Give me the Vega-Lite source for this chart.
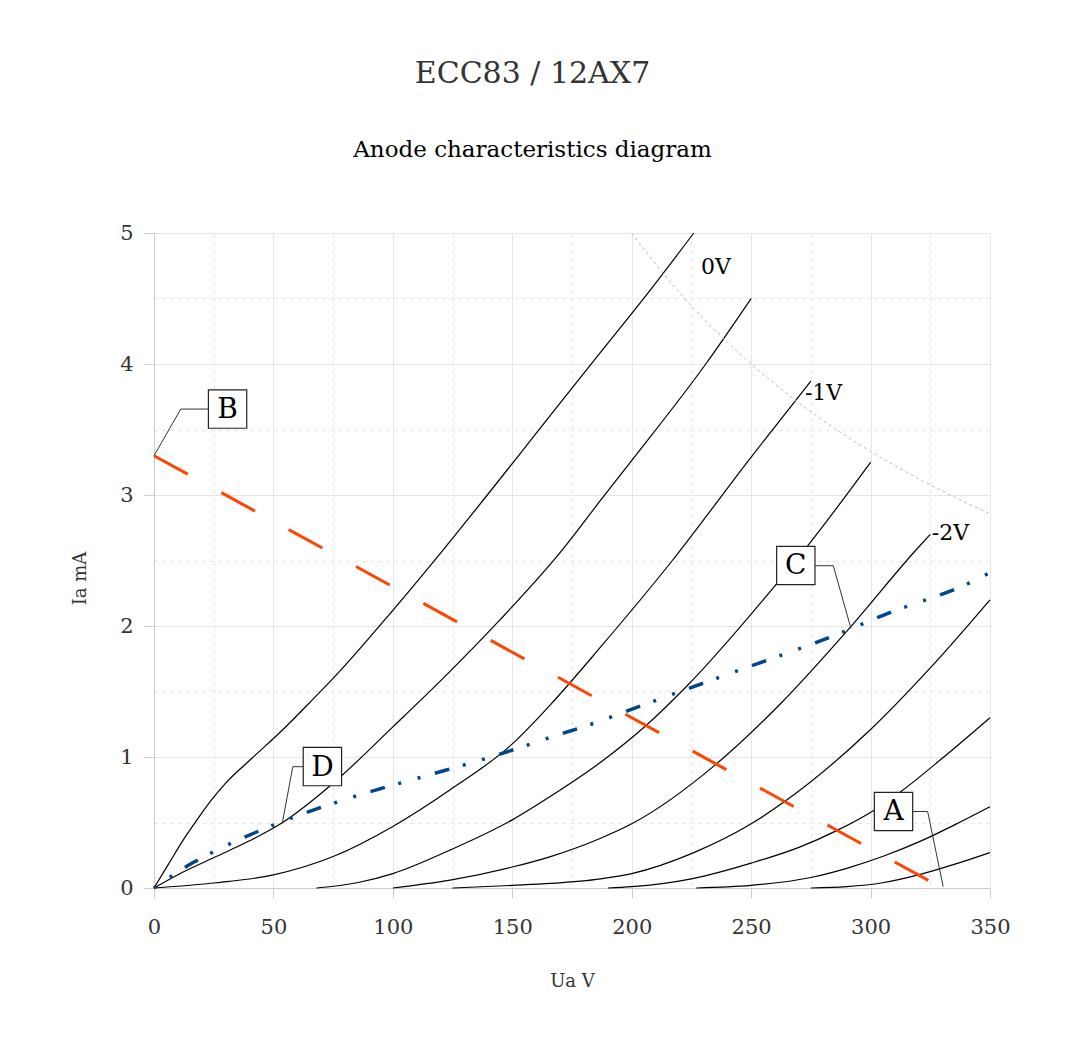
{
  "$schema": "https://vega.github.io/schema/vega-lite/v6.json",
  "width": 836,
  "height": 655,
  "autosize": {"type": "none"},
  "padding": {"left": 154, "top": 233, "right": 75, "bottom": 170},
  "background": "white",
  "title": {
    "text": "ECC83 / 12AX7",
    "subtitle": "Anode characteristics diagram",
    "anchor": "middle",
    "frame": "group",
    "dx": -39.5,
    "font": "DejaVu Serif",
    "fontSize": 30,
    "fontWeight": "normal",
    "color": "#333333",
    "subtitleFont": "DejaVu Serif",
    "subtitleFontSize": 23,
    "subtitleColor": "#000000",
    "subtitlePadding": 50,
    "offset": 60
  },
  "config": {
    "view": {"stroke": null},
    "axis": {
      "labelFont": "DejaVu Serif",
      "titleFont": "DejaVu Serif",
      "labelColor": "#333333",
      "titleColor": "#333333",
      "titleFontWeight": "normal",
      "domainColor": "#cccccc",
      "tickColor": "#cccccc",
      "gridColor": "#e6e6e6",
      "labelFontSize": 21,
      "titleFontSize": 18,
      "tickSize": 10
    }
  },
  "datasets": {
    "tubes": [
      {"g": "0", "ua": 0, "ia": 0}, {"g": "0", "ua": 6, "ia": 0.18}, {"g": "0", "ua": 12, "ia": 0.36}, {"g": "0", "ua": 18, "ia": 0.52}, {"g": "0", "ua": 24, "ia": 0.67}, {"g": "0", "ua": 30, "ia": 0.8}, {"g": "0", "ua": 41, "ia": 0.99}, {"g": "0", "ua": 54, "ia": 1.21}, {"g": "0", "ua": 67, "ia": 1.45}, {"g": "0", "ua": 75, "ia": 1.6}, {"g": "0", "ua": 100, "ia": 2.12}, {"g": "0", "ua": 121, "ia": 2.58}, {"g": "0", "ua": 150, "ia": 3.24}, {"g": "0", "ua": 166, "ia": 3.61}, {"g": "0", "ua": 187, "ia": 4.09}, {"g": "0", "ua": 208, "ia": 4.57}, {"g": "0", "ua": 226, "ia": 5.0},
      {"g": "-0.5", "ua": 0, "ia": 0}, {"g": "-0.5", "ua": 12, "ia": 0.12}, {"g": "-0.5", "ua": 26, "ia": 0.24}, {"g": "-0.5", "ua": 40, "ia": 0.36}, {"g": "-0.5", "ua": 53, "ia": 0.49}, {"g": "-0.5", "ua": 75, "ia": 0.8}, {"g": "-0.5", "ua": 100, "ia": 1.23}, {"g": "-0.5", "ua": 121, "ia": 1.6}, {"g": "-0.5", "ua": 145, "ia": 2.05}, {"g": "-0.5", "ua": 170, "ia": 2.56}, {"g": "-0.5", "ua": 187, "ia": 2.96}, {"g": "-0.5", "ua": 199, "ia": 3.24}, {"g": "-0.5", "ua": 231, "ia": 4.0}, {"g": "-0.5", "ua": 250, "ia": 4.5},
      {"g": "-1", "ua": 0, "ia": 0}, {"g": "-1", "ua": 26, "ia": 0.04}, {"g": "-1", "ua": 50, "ia": 0.1}, {"g": "-1", "ua": 75, "ia": 0.24}, {"g": "-1", "ua": 100, "ia": 0.47}, {"g": "-1", "ua": 124, "ia": 0.75}, {"g": "-1", "ua": 150, "ia": 1.1}, {"g": "-1", "ua": 166, "ia": 1.4}, {"g": "-1", "ua": 187, "ia": 1.84}, {"g": "-1", "ua": 217, "ia": 2.5}, {"g": "-1", "ua": 250, "ia": 3.29}, {"g": "-1", "ua": 275, "ia": 3.87},
      {"g": "-1.5", "ua": 68, "ia": 0}, {"g": "-1.5", "ua": 85, "ia": 0.04}, {"g": "-1.5", "ua": 100, "ia": 0.11}, {"g": "-1.5", "ua": 124, "ia": 0.29}, {"g": "-1.5", "ua": 150, "ia": 0.52}, {"g": "-1.5", "ua": 166, "ia": 0.7}, {"g": "-1.5", "ua": 187, "ia": 0.96}, {"g": "-1.5", "ua": 206, "ia": 1.24}, {"g": "-1.5", "ua": 223, "ia": 1.54}, {"g": "-1.5", "ua": 261, "ia": 2.33}, {"g": "-1.5", "ua": 274, "ia": 2.62}, {"g": "-1.5", "ua": 300, "ia": 3.25},
      {"g": "-2", "ua": 100, "ia": 0}, {"g": "-2", "ua": 124, "ia": 0.06}, {"g": "-2", "ua": 150, "ia": 0.16}, {"g": "-2", "ua": 166, "ia": 0.24}, {"g": "-2", "ua": 187, "ia": 0.38}, {"g": "-2", "ua": 200, "ia": 0.49}, {"g": "-2", "ua": 235, "ia": 0.94}, {"g": "-2", "ua": 263, "ia": 1.42}, {"g": "-2", "ua": 291, "ia": 1.98}, {"g": "-2", "ua": 319, "ia": 2.58}, {"g": "-2", "ua": 325, "ia": 2.7},
      {"g": "-2.5", "ua": 125, "ia": 0}, {"g": "-2.5", "ua": 150, "ia": 0.02}, {"g": "-2.5", "ua": 166, "ia": 0.035}, {"g": "-2.5", "ua": 187, "ia": 0.07}, {"g": "-2.5", "ua": 200, "ia": 0.11}, {"g": "-2.5", "ua": 226, "ia": 0.27}, {"g": "-2.5", "ua": 250, "ia": 0.49}, {"g": "-2.5", "ua": 264, "ia": 0.66}, {"g": "-2.5", "ua": 300, "ia": 1.21}, {"g": "-2.5", "ua": 325, "ia": 1.68}, {"g": "-2.5", "ua": 350, "ia": 2.2},
      {"g": "-3", "ua": 190, "ia": 0}, {"g": "-3", "ua": 200, "ia": 0.01}, {"g": "-3", "ua": 225, "ia": 0.07}, {"g": "-3", "ua": 250, "ia": 0.19}, {"g": "-3", "ua": 270, "ia": 0.31}, {"g": "-3", "ua": 286, "ia": 0.44}, {"g": "-3", "ua": 302, "ia": 0.6}, {"g": "-3", "ua": 313, "ia": 0.74}, {"g": "-3", "ua": 330, "ia": 0.99}, {"g": "-3", "ua": 350, "ia": 1.3},
      {"g": "-3.5", "ua": 227, "ia": 0}, {"g": "-3.5", "ua": 250, "ia": 0.02}, {"g": "-3.5", "ua": 275, "ia": 0.08}, {"g": "-3.5", "ua": 290, "ia": 0.15}, {"g": "-3.5", "ua": 305, "ia": 0.24}, {"g": "-3.5", "ua": 320, "ia": 0.35}, {"g": "-3.5", "ua": 335, "ia": 0.48}, {"g": "-3.5", "ua": 350, "ia": 0.62},
      {"g": "-4", "ua": 275, "ia": 0}, {"g": "-4", "ua": 290, "ia": 0.01}, {"g": "-4", "ua": 305, "ia": 0.04}, {"g": "-4", "ua": 320, "ia": 0.1}, {"g": "-4", "ua": 335, "ia": 0.18}, {"g": "-4", "ua": 350, "ia": 0.27}
    ],
    "pmax": [
      {"ua": 200, "ia": 5.0}, {"ua": 210, "ia": 4.762}, {"ua": 220, "ia": 4.545}, {"ua": 230, "ia": 4.348}, {"ua": 240, "ia": 4.167}, {"ua": 250, "ia": 4.0}, {"ua": 260, "ia": 3.846}, {"ua": 270, "ia": 3.704}, {"ua": 280, "ia": 3.571}, {"ua": 290, "ia": 3.448}, {"ua": 300, "ia": 3.333}, {"ua": 310, "ia": 3.226}, {"ua": 320, "ia": 3.125}, {"ua": 330, "ia": 3.03}, {"ua": 340, "ia": 2.941}, {"ua": 350, "ia": 2.857}
    ],
    "load": [
      {"ua": 0, "ia": 3.3}, {"ua": 330, "ia": 0}
    ],
    "bias": [
      {"ua": 0, "ia": 0}, {"ua": 7, "ia": 0.086}, {"ua": 16, "ia": 0.19}, {"ua": 25, "ia": 0.277}, {"ua": 42, "ia": 0.42}, {"ua": 59, "ia": 0.544}, {"ua": 86, "ia": 0.71}, {"ua": 114, "ia": 0.857}, {"ua": 141, "ia": 1.0}, {"ua": 169, "ia": 1.168}, {"ua": 182, "ia": 1.244}, {"ua": 206, "ia": 1.405}, {"ua": 242, "ia": 1.643}, {"ua": 288, "ia": 1.95}, {"ua": 305, "ia": 2.08}, {"ua": 341, "ia": 2.326}, {"ua": 350, "ia": 2.407}
    ],
    "leaders": [
      {"k": "A", "o": 0, "ua": 317.6, "ia": 0.584}, {"k": "A", "o": 1, "ua": 323.9, "ia": 0.584}, {"k": "A", "o": 2, "ua": 330.4, "ia": 0.01},
      {"k": "B", "o": 0, "ua": 22.7, "ia": 3.656}, {"k": "B", "o": 1, "ua": 11.2, "ia": 3.656}, {"k": "B", "o": 2, "ua": 0, "ia": 3.3},
      {"k": "C", "o": 0, "ua": 276.7, "ia": 2.46}, {"k": "C", "o": 1, "ua": 284.4, "ia": 2.46}, {"k": "C", "o": 2, "ua": 291.8, "ia": 1.98},
      {"k": "D", "o": 0, "ua": 62.5, "ia": 0.926}, {"k": "D", "o": 1, "ua": 58.1, "ia": 0.926}, {"k": "D", "o": 2, "ua": 53.7, "ia": 0.494}
    ],
    "boxes": [
      {"k": "A", "ua": 309.6, "ia": 0.584},
      {"k": "B", "ua": 30.8, "ia": 3.656},
      {"k": "C", "ua": 268.7, "ia": 2.462},
      {"k": "D", "ua": 70.5, "ia": 0.927}
    ],
    "curvelabels": [
      {"t": "0V", "ua": 229, "ia": 4.74},
      {"t": "-1V", "ua": 272.5, "ia": 3.78},
      {"t": "-2V", "ua": 325.6, "ia": 2.71}
    ]
  },
  "encoding": {
    "x": {
      "field": "ua", "type": "quantitative",
      "scale": {"domain": [0, 350], "nice": false, "zero": false},
      "axis": {
        "title": "Ua V",
        "values": [0, 25, 50, 75, 100, 125, 150, 175, 200, 225, 250, 275, 300, 325, 350],
        "labelExpr": "datum.value % 50 === 0 ? format(datum.value, 'd') : ''",
        "gridDash": {"condition": {"test": "datum.value % 50 !== 0", "value": [4, 4]}, "value": []},
        "tickOpacity": {"condition": {"test": "datum.value % 50 !== 0", "value": 0}, "value": 1},
        "labelPadding": 18,
        "titlePadding": 35,
        "labelFlush": false
      }
    },
    "y": {
      "field": "ia", "type": "quantitative",
      "scale": {"domain": [0, 5], "nice": false, "zero": false},
      "axis": {
        "title": "Ia mA",
        "values": [0, 0.5, 1, 1.5, 2, 2.5, 3, 3.5, 4, 4.5, 5],
        "labelExpr": "datum.value % 1 === 0 ? format(datum.value, 'd') : ''",
        "gridDash": {"condition": {"test": "datum.value % 1 !== 0", "value": [4, 4]}, "value": []},
        "tickOpacity": {"condition": {"test": "datum.value % 1 !== 0", "value": 0}, "value": 1},
        "labelPadding": 11,
        "titlePadding": 30,
        "titleY": 345,
        "labelFlush": false
      }
    }
  },
  "layer": [
    {
      "data": {"name": "tubes"},
      "mark": {"type": "line", "color": "#000000", "strokeWidth": 1.2, "interpolate": "monotone"},
      "encoding": {"detail": {"field": "g"}}
    },
    {
      "data": {"name": "pmax"},
      "mark": {"type": "line", "color": "#bbbbbb", "strokeWidth": 1, "strokeDash": [3, 3], "interpolate": "monotone"},
      "encoding": {}
    },
    {
      "data": {"name": "load"},
      "mark": {"type": "line", "color": "#ff4500", "strokeWidth": 3, "strokeDash": [38.4, 38.4]},
      "encoding": {}
    },
    {
      "data": {"name": "bias"},
      "mark": {"type": "line", "color": "#00468b", "strokeWidth": 3.5, "strokeDash": [15, 14, 3, 17, 3, 15], "strokeDashOffset": 30, "interpolate": "monotone"},
      "encoding": {}
    },
    {
      "data": {"name": "leaders"},
      "mark": {"type": "line", "color": "#333333", "strokeWidth": 1},
      "encoding": {"detail": {"field": "k"}, "order": {"field": "o"}}
    },
    {
      "data": {"name": "boxes"},
      "mark": {"type": "square", "size": 1470, "fill": "#ffffff", "fillOpacity": 1, "stroke": "#222222", "strokeWidth": 1.2, "opacity": 1}
    },
    {
      "data": {"name": "boxes"},
      "mark": {"type": "text", "font": "DejaVu Serif", "fontSize": 28, "color": "#000000", "baseline": "middle", "align": "center", "dy": 1},
      "encoding": {"text": {"field": "k"}}
    },
    {
      "data": {"name": "curvelabels"},
      "mark": {"type": "text", "font": "DejaVu Serif", "fontSize": 22, "color": "#000000", "baseline": "middle", "align": "left"},
      "encoding": {"text": {"field": "t"}}
    }
  ]
}
